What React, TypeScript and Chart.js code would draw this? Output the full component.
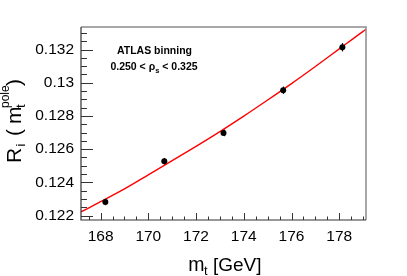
import React, { useEffect, useRef } from "react";
import { Chart, registerables } from "chart.js";

Chart.register(...registerables);

const FONT = '"Liberation Sans", Arial, Helvetica, sans-serif';

// measured points (top mass, ratio) with vertical errors
const massValues = [168.2, 170.67, 173.15, 175.65, 178.13];
const ratioValues = [0.12282, 0.12527, 0.12698, 0.12955, 0.13214];
const ratioErrors = [0.0002, 0.0002, 0.0002, 0.00022, 0.00025];

// fitted curve
const fitMass = [167.18, 168, 169, 170, 171, 172, 173, 174, 175, 176, 177, 178, 179, 179.12];
const fitRatio = [0.12222, 0.12283, 0.1236, 0.12445, 0.12531, 0.12617, 0.12706, 0.12799, 0.12896, 0.12995, 0.13098, 0.13204, 0.1331, 0.13322];

// axes
const xMin = 167.18;
const xMax = 179.12;
const yMin = 0.12173;
const yMax = 0.13336;
const xTickValues = [168, 170, 172, 174, 176, 178];
const xTickLabels = ["168", "170", "172", "174", "176", "178"];
const yTickValues = [0.122, 0.124, 0.126, 0.128, 0.13, 0.132];
const yTickLabels = ["0.122", "0.124", "0.126", "0.128", "0.13", "0.132"];
const xMinorStep = 0.5;
const yMinorStep = 0.0005;

export default function App() {
  const ref = useRef<HTMLCanvasElement>(null);

  useEffect(() => {
    const canvas = ref.current;
    if (!canvas) return;

    const deco = {
      id: "deco",
      beforeDatasetsDraw(chart: any) {
        const ctx = chart.ctx;
        const xs = chart.scales.x;
        const ys = chart.scales.y;
        ctx.save();
        ctx.strokeStyle = "#000";
        ctx.lineWidth = 1.2;
        massValues.forEach((m, i) => {
          const px = Math.round(xs.getPixelForValue(m)) + 0.5;
          const y1 = ys.getPixelForValue(ratioValues[i] - ratioErrors[i]);
          const y2 = ys.getPixelForValue(ratioValues[i] + ratioErrors[i]);
          ctx.beginPath();
          ctx.moveTo(px, y1);
          ctx.lineTo(px, y2);
          ctx.stroke();
        });
        ctx.restore();
      },
      afterDraw(chart: any) {
        const ctx = chart.ctx;
        const a = chart.chartArea;
        const xs = chart.scales.x;
        const ys = chart.scales.y;
        ctx.save();
        // frame
        ctx.lineWidth = 1.5;
        ctx.strokeStyle = "#8c8c8c";
        ctx.beginPath();
        ctx.moveTo(a.left, a.top);
        ctx.lineTo(a.right, a.top);
        ctx.lineTo(a.right, a.bottom);
        ctx.stroke();
        ctx.strokeStyle = "#333";
        ctx.lineWidth = 1.2;
        ctx.beginPath();
        ctx.moveTo(a.left, a.top);
        ctx.lineTo(a.left, a.bottom);
        ctx.lineTo(a.right, a.bottom);
        ctx.stroke();

        // ticks
        ctx.lineWidth = 1;
        ctx.strokeStyle = "#333";
        const startX = Math.ceil(xMin / xMinorStep) * xMinorStep;
        for (let v = startX; v <= xMax + 1e-9; v += xMinorStep) {
          const major = xTickValues.some((t) => Math.abs(t - v) < 1e-6);
          const px = Math.round(xs.getPixelForValue(v)) + 0.5;
          ctx.beginPath();
          ctx.moveTo(px, a.bottom);
          ctx.lineTo(px, a.bottom - (major ? 7 : 3.5));
          ctx.stroke();
        }
        const startY = Math.ceil(yMin / yMinorStep - 1e-6) * yMinorStep;
        for (let v = startY; v <= yMax + 1e-9; v += yMinorStep) {
          const major = yTickValues.some((t) => Math.abs(t - v) < 1e-7);
          const py = Math.round(ys.getPixelForValue(v)) + 0.5;
          ctx.beginPath();
          ctx.moveTo(a.left, py);
          ctx.lineTo(a.left + (major ? 12 : 6), py);
          ctx.stroke();
        }

        // x title
        ctx.fillStyle = "#000";
        ctx.textBaseline = "alphabetic";
        ctx.textAlign = "left";
        ctx.font = `19.5px ${FONT}`;
        ctx.fillText("m", 188.3, 271);
        ctx.font = `13px ${FONT}`;
        ctx.fillText("t", 204, 275);
        ctx.font = `19px ${FONT}`;
        ctx.fillText("[GeV]", 213, 271);

        // y title (rotated)
        ctx.save();
        ctx.translate(20.7, 163);
        ctx.rotate(-Math.PI / 2);
        ctx.font = `21px ${FONT}`;
        ctx.fillText("R", 0, 0);
        ctx.font = `13px ${FONT}`;
        ctx.fillText("i", 16.5, 4);
        ctx.font = `21px ${FONT}`;
        ctx.fillText("(", 27, 0);
        ctx.fillText("m", 39, 0);
        ctx.font = `13px ${FONT}`;
        ctx.fillText("t", 55, 4);
        ctx.font = `12px ${FONT}`;
        ctx.fillText("pole", 55, -12);
        ctx.font = `21px ${FONT}`;
        ctx.fillText(")", 77, 0);
        ctx.restore();

        // annotation
        ctx.font = `bold 10.5px ${FONT}`;
        ctx.textAlign = "center";
        ctx.fillText("ATLAS binning", 154.5, 54.3);
        ctx.textAlign = "left";
        const p1 = "0.250 < \u03c1";
        const p3 = " < 0.325";
        ctx.font = `bold 10.5px ${FONT}`;
        const w1 = ctx.measureText(p1).width;
        const w3 = ctx.measureText(p3).width;
        ctx.font = `bold 7.5px ${FONT}`;
        const w2 = ctx.measureText("s").width;
        const total = w1 + w2 + w3;
        let x0 = 154 - total / 2;
        ctx.font = `bold 10.5px ${FONT}`;
        ctx.fillText(p1, x0, 70);
        ctx.font = `bold 7.5px ${FONT}`;
        ctx.fillText("s", x0 + w1, 72.5);
        ctx.font = `bold 10.5px ${FONT}`;
        ctx.fillText(p3, x0 + w1 + w2, 70);
        ctx.restore();
      },
    };

    const chart = new Chart(canvas, {
      type: "scatter",
      data: {
        datasets: [
          {
            type: "line",
            data: fitMass.map((x, i) => ({ x, y: fitRatio[i] })),
            borderColor: "#ff0000",
            borderWidth: 1.4,
            pointRadius: 0,
            cubicInterpolationMode: "monotone",
            fill: false,
            order: 2,
          } as any,
          {
            type: "scatter",
            data: massValues.map((x, i) => ({ x, y: ratioValues[i] })),
            backgroundColor: "#000",
            borderColor: "#000",
            borderWidth: 0,
            pointRadius: 3,
            order: 1,
          } as any,
        ],
      },
      options: {
        animation: false,
        responsive: false,
        devicePixelRatio: 1,
        layout: { padding: { top: 27, right: 41, left: 0, bottom: 0 } },
        plugins: { legend: { display: false }, tooltip: { enabled: false } },
        scales: {
          x: {
            type: "linear",
            min: xMin,
            max: xMax,
            afterBuildTicks: (s: any) => {
              s.ticks = xTickValues.map((v) => ({ value: v }));
            },
            afterFit: (s: any) => {
              s.height = 56;
            },
            grid: { display: false, drawTicks: false },
            border: { display: false },
            ticks: {
              font: { family: FONT, size: 15.5 },
              color: "#000",
              padding: 7,
              maxRotation: 0,
              autoSkip: false,
              callback: (_v: any, i: number) => xTickLabels[i],
            },
          },
          y: {
            type: "linear",
            min: yMin,
            max: yMax,
            afterBuildTicks: (s: any) => {
              s.ticks = yTickValues.map((v) => ({ value: v }));
            },
            afterFit: (s: any) => {
              s.width = 81;
            },
            grid: { display: false, drawTicks: false },
            border: { display: false },
            ticks: {
              font: { family: FONT, size: 15.5 },
              color: "#000",
              padding: 7,
              autoSkip: false,
              callback: (_v: any, i: number) => yTickLabels[i],
            },
          },
        },
      },
      plugins: [deco],
    } as any);

    return () => chart.destroy();
  }, []);

  return (
    <div style={{ position: "fixed", left: 0, top: 0, width: 407, height: 276, background: "#fff" }}>
      <canvas ref={ref} width={407} height={276} style={{ display: "block", width: 407, height: 276 }} />
    </div>
  );
}
